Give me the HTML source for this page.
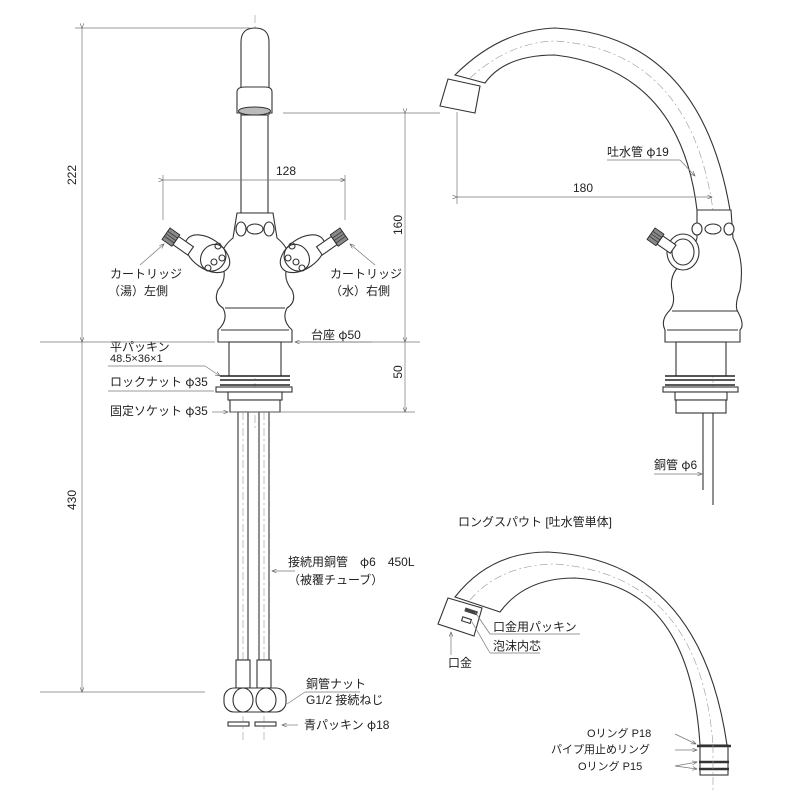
<!DOCTYPE html>
<html><head><meta charset="utf-8"><style>
html,body{margin:0;padding:0;background:#fff}
svg{display:block}
text{font-family:"Liberation Sans","Noto Sans CJK JP",sans-serif;font-size:12px;fill:#222}
tspan.p{font-family:"Noto Sans CJK JP",sans-serif}
.l{stroke:#333;stroke-width:1.1;fill:none}
.f{stroke:#333;stroke-width:1.1;fill:#fff}
.d{stroke:#777;stroke-width:0.7;fill:none}
.c{stroke:#999;stroke-width:0.6;fill:none;stroke-dasharray:8 3 2 3}
.k{fill:#888;stroke:#222;stroke-width:0.8}
</style></head><body>
<svg width="800" height="800" viewBox="0 0 800 800" xmlns="http://www.w3.org/2000/svg">
<defs><marker id="a" markerWidth="8" markerHeight="6" refX="7" refY="3" orient="auto"><path d="M0,0 L7,3 L0,6" fill="none" stroke="#555" stroke-width="0.8"/></marker></defs>

<!-- LEFT FAUCET -->
<line class="c" x1="255" y1="15" x2="255" y2="430"/>
<path class="f" d="M241,115 V42 Q241,28 255,28 Q269,28 269,42 V115"/>
<path class="f" d="M237,113 V92 Q237,87 245,87 H265 Q272,87 272,92 V113 Z"/>
<ellipse cx="254.5" cy="111" rx="16" ry="4" fill="#bbb" stroke="#333"/>
<rect class="f" x="241" y="115" width="27" height="98"/>
<path class="f" d="M237,213 H273 L277,238 Q292,250 288,265 Q282,278 292,290 Q297,302 287,308 Q281,320 292,330 V342 H218 V330 Q229,320 223,308 Q213,302 218,290 Q228,278 222,265 Q218,250 233,238 Z"/>
<line class="l" x1="225" y1="308" x2="285" y2="308"/>
<line class="l" x1="221" y1="330" x2="289" y2="330"/>
<ellipse class="f" cx="241" cy="229" rx="5" ry="7"/><ellipse class="f" cx="255" cy="229" rx="8" ry="5"/><ellipse class="f" cx="269" cy="229" rx="5" ry="7"/>
<g transform="rotate(35 205 252)"><ellipse class="f" cx="208" cy="252" rx="25" ry="15"/><ellipse class="l" cx="215" cy="252" rx="12" ry="14"/></g>
<circle class="l" cx="218" cy="246" r="3"/><circle class="l" cx="214" cy="262" r="3"/><circle class="l" cx="222" cy="258" r="3"/><circle class="l" cx="208" cy="268" r="3"/>
<g transform="rotate(35 175 240)"><rect class="f" x="176" y="235" width="18" height="10"/><rect class="k" x="164" y="233" width="12" height="14"/><line x1="164" y1="237" x2="176" y2="237" stroke="#222" stroke-width="0.6"/><line x1="164" y1="240" x2="176" y2="240" stroke="#222" stroke-width="0.6"/><line x1="164" y1="243" x2="176" y2="243" stroke="#222" stroke-width="0.6"/></g>
<g transform="rotate(-35 305 252)"><ellipse class="f" cx="302" cy="252" rx="25" ry="15"/><ellipse class="l" cx="295" cy="252" rx="12" ry="14"/></g>
<circle class="l" cx="292" cy="246" r="3"/><circle class="l" cx="296" cy="262" r="3"/><circle class="l" cx="288" cy="258" r="3"/><circle class="l" cx="302" cy="268" r="3"/>
<g transform="rotate(-35 335 240)"><rect class="f" x="316" y="235" width="18" height="10"/><rect class="k" x="334" y="233" width="12" height="14"/><line x1="334" y1="237" x2="346" y2="237" stroke="#222" stroke-width="0.6"/><line x1="334" y1="240" x2="346" y2="240" stroke="#222" stroke-width="0.6"/><line x1="334" y1="243" x2="346" y2="243" stroke="#222" stroke-width="0.6"/></g>
<rect class="f" x="229" y="342" width="52" height="34"/>
<line x1="220" y1="376" x2="290" y2="376" stroke="#222" stroke-width="1.6"/>
<line x1="220" y1="380" x2="290" y2="380" stroke="#222" stroke-width="1.6"/>
<line x1="220" y1="385" x2="290" y2="385" stroke="#222" stroke-width="1.6"/>
<rect class="f" x="216" y="387" width="76" height="5"/>
<rect class="f" x="228" y="392" width="54" height="8"/>
<rect class="f" x="230" y="400" width="50" height="12"/>
<rect class="f" x="238" y="412" width="10" height="248"/><rect class="f" x="259" y="412" width="10" height="248"/>
<line class="c" x1="243" y1="412" x2="243" y2="740"/><line class="c" x1="264" y1="412" x2="264" y2="740"/>
<rect class="f" x="236" y="660" width="14" height="28"/><rect class="f" x="257" y="660" width="14" height="28"/>
<rect class="f" x="224" y="688" width="62" height="24" rx="10"/>
<ellipse class="l" cx="243" cy="700" rx="10" ry="12"/><ellipse class="l" cx="266" cy="700" rx="10" ry="12"/>
<rect class="f" x="228" y="722" width="21" height="4"/><rect class="f" x="255" y="722" width="21" height="4"/>

<line class="d" x1="75" y1="28" x2="250" y2="28"/>
<line class="d" x1="40" y1="342" x2="215" y2="342"/>
<line class="d" x1="40" y1="692" x2="205" y2="692"/>
<line class="d" x1="82" y1="28" x2="82" y2="342" marker-start="url(#a)" marker-end="url(#a)"/>
<line class="d" x1="82" y1="342" x2="82" y2="692" marker-end="url(#a)"/>
<text transform="translate(76,175) rotate(-90)" text-anchor="middle">222</text>
<text transform="translate(76,500) rotate(-90)" text-anchor="middle">430</text>
<line class="d" x1="163" y1="180" x2="345" y2="180" marker-start="url(#a)" marker-end="url(#a)"/>
<line class="d" x1="163" y1="175" x2="163" y2="220"/><line class="d" x1="345" y1="175" x2="345" y2="220"/>
<text x="276" y="175">128</text>
<line class="d" x1="283" y1="113" x2="440" y2="113"/>
<line class="d" x1="230" y1="412" x2="415" y2="412"/>
<line class="d" x1="405" y1="113" x2="405" y2="342" marker-start="url(#a)" marker-end="url(#a)"/>
<line class="d" x1="405" y1="342" x2="405" y2="412" marker-end="url(#a)"/>
<line class="d" x1="300" y1="342" x2="420" y2="342"/>
<text transform="translate(402,225) rotate(-90)" text-anchor="middle">160</text>
<text transform="translate(402,372) rotate(-90)" text-anchor="middle">50</text>

<text x="110" y="278">カートリッジ</text><text x="108" y="295">（湯）左側</text>
<line class="d" x1="140" y1="265" x2="164" y2="244" marker-end="url(#a)"/>
<text x="330" y="278">カートリッジ</text><text x="330" y="295">（水）右側</text>
<line class="d" x1="375" y1="265" x2="350" y2="244" marker-end="url(#a)"/>
<text x="311" y="339">台座 <tspan class="p">φ</tspan>50</text>
<line class="d" x1="372" y1="342" x2="295" y2="342" marker-end="url(#a)"/>
<text x="110" y="351">平パッキン</text>
<text x="110" y="362" style="font-size:11px">48.5×36×1</text>
<line class="d" x1="108" y1="366" x2="205" y2="366"/><line class="d" x1="205" y1="366" x2="220" y2="376" marker-end="url(#a)"/>
<text x="110" y="386">ロックナット <tspan class="p">φ</tspan>35</text>
<line class="d" x1="108" y1="391" x2="214" y2="391"/>
<text x="110" y="415">固定ソケット <tspan class="p">φ</tspan>35</text>
<line class="d" x1="212" y1="412" x2="228" y2="412" marker-end="url(#a)"/>
<text x="288" y="566">接続用銅管　<tspan class="p">φ</tspan>6　450L</text>
<text x="288" y="584">（被覆チューブ）</text>
<line class="d" x1="295" y1="571" x2="272" y2="571" marker-end="url(#a)"/>
<text x="306" y="688">銅管ナット</text><text x="306" y="704">G1/2 接続ねじ</text>
<line class="d" x1="305" y1="692" x2="360" y2="692"/><line class="d" x1="305" y1="692" x2="287" y2="704"/>
<text x="304" y="729">青パッキン <tspan class="p">φ</tspan>18</text>
<line class="d" x1="298" y1="725" x2="282" y2="725" marker-end="url(#a)"/>

<!-- RIGHT FAUCET -->
<path class="f" d="M455,75 Q500,30 555,28 Q700,35 730,210 L697,210 Q680,70 555,55 Q505,55 485,83 Z"/>
<path class="c" d="M470,78 Q510,42 555,41 Q690,50 713,210"/>
<path class="f" d="M448,79 L480,86 L475,113 L440,106 Z"/>
<line class="c" x1="713" y1="210" x2="713" y2="420"/>
<path class="f" d="M697,210 H731 L733,238 Q745,260 740,290 Q734,306 738,312 Q745,325 740,330 V342 H665 V330 Q660,320 670,310 Q676,302 672,290 Q668,270 690,258 L697,238 Z"/>
<line class="l" x1="672" y1="311" x2="738" y2="311"/>
<line class="l" x1="667" y1="330" x2="738" y2="330"/>
<ellipse class="f" cx="697" cy="229" rx="5" ry="6"/><ellipse class="f" cx="713" cy="229" rx="8" ry="5"/><ellipse class="f" cx="729" cy="229" rx="5" ry="6"/>
<ellipse class="f" cx="683" cy="252" rx="16" ry="18"/><ellipse class="l" cx="683" cy="252" rx="11" ry="13"/>
<g transform="rotate(35 660 240)"><rect class="f" x="660" y="235" width="16" height="10"/><rect class="k" x="649" y="233" width="11" height="14"/><line x1="649" y1="237" x2="660" y2="237" stroke="#222" stroke-width="0.6"/><line x1="649" y1="240" x2="660" y2="240" stroke="#222" stroke-width="0.6"/><line x1="649" y1="243" x2="660" y2="243" stroke="#222" stroke-width="0.6"/></g>
<rect class="f" x="676" y="342" width="50" height="34"/>
<line x1="665" y1="376" x2="735" y2="376" stroke="#222" stroke-width="1.6"/>
<line x1="665" y1="380" x2="735" y2="380" stroke="#222" stroke-width="1.6"/>
<line x1="665" y1="385" x2="735" y2="385" stroke="#222" stroke-width="1.6"/>
<rect class="f" x="663" y="387" width="75" height="5"/>
<rect class="f" x="675" y="392" width="52" height="8"/>
<rect class="f" x="676" y="400" width="50" height="13"/>
<line class="l" x1="703" y1="413" x2="703" y2="490"/><line class="l" x1="713" y1="413" x2="713" y2="505"/>
<line class="d" x1="457" y1="112" x2="457" y2="204"/>
<line class="d" x1="457" y1="197" x2="712" y2="197" marker-start="url(#a)" marker-end="url(#a)"/>
<text x="573" y="192">180</text>
<text x="607" y="156">吐水管 <tspan class="p">φ</tspan>19</text>
<line class="d" x1="607" y1="160" x2="680" y2="160"/><line class="d" x1="680" y1="160" x2="695" y2="176" marker-end="url(#a)"/>
<text x="654" y="469">銅管 <tspan class="p">φ</tspan>6</text>
<line class="d" x1="654" y1="474" x2="702" y2="474" marker-end="url(#a)"/>

<!-- LONG SPOUT -->
<text x="458" y="526">ロングスパウト [吐水管単体]</text>
<path class="f" d="M455,597 Q490,552 548,552 Q700,560 727,745 L700,745 Q690,585 575,578 Q525,578 500,612 Z"/>
<path class="c" d="M470,600 Q500,565 555,564 Q700,575 713,745"/>
<path class="f" d="M448,598 L482,608 L474,636 L438,624 Z"/>
<rect x="465" y="609" width="13" height="4" fill="#444" transform="rotate(18 470 610)"/>
<rect class="l" x="462" y="618" width="9" height="4" transform="rotate(18 466 620)"/>
<rect class="f" x="700" y="745" width="28" height="30"/>
<line x1="697" y1="746" x2="731" y2="746" stroke="#333" stroke-width="2.5"/>
<line x1="699" y1="762" x2="729" y2="762" stroke="#333" stroke-width="2.5"/>
<line x1="699" y1="769" x2="729" y2="769" stroke="#333" stroke-width="2.5"/>
<line class="c" x1="713" y1="745" x2="713" y2="792"/>
<text x="493" y="631">口金用パッキン</text>
<line class="d" x1="490" y1="634" x2="580" y2="634"/><line class="d" x1="490" y1="634" x2="475" y2="612"/>
<text x="493" y="650">泡沫内芯</text>
<line class="d" x1="490" y1="653" x2="540" y2="653"/><line class="d" x1="490" y1="653" x2="472" y2="622"/>
<text x="448" y="667">口金</text>
<line class="d" x1="451" y1="655" x2="451" y2="632" marker-end="url(#a)"/>
<text x="587" y="737" style="font-size:11px">Oリング P18</text>
<text x="551" y="753" style="font-size:11px">パイプ用止めリング</text>
<text x="578" y="770" style="font-size:11px">Oリング P15</text>
<line class="d" x1="675" y1="734" x2="696" y2="744" marker-end="url(#a)"/>
<line class="d" x1="675" y1="750" x2="697" y2="750" marker-end="url(#a)"/>
<line class="d" x1="675" y1="766" x2="697" y2="762" marker-end="url(#a)"/>
<line class="d" x1="675" y1="766" x2="697" y2="769" marker-end="url(#a)"/>
</svg>
</body></html>
